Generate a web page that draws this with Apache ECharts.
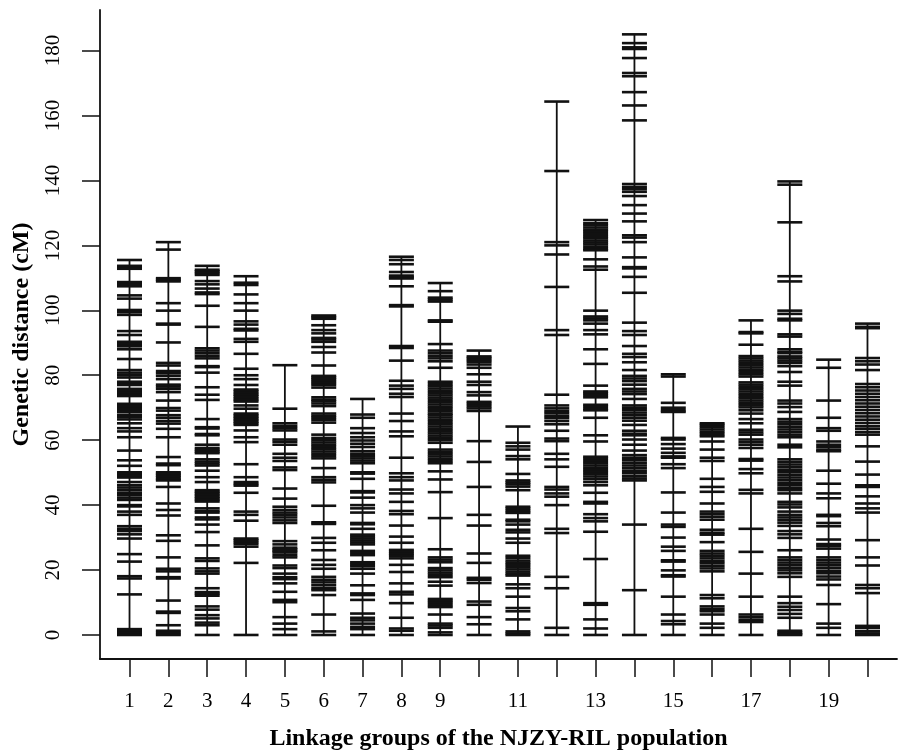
<!DOCTYPE html>
<html>
<head>
<meta charset="utf-8">
<script src="https://cdn.jsdelivr.net/npm/echarts@6/dist/echarts.min.js"></script>
<style>html,body{margin:0;padding:0;background:#fff}#c{width:907px;height:756px}</style>
</head>
<body>
<div id="c"></div>
<script>
// Linkage group numbers and marker positions (cM)
const groupIds = [1,2,3,4,5,6,7,8,9,10,11,12,13,14,15,16,17,18,19,20];
const xTickLabels = [1,2,3,4,5,6,7,8,9,11,13,15,17,19];
const yTickLabels = [0,20,40,60,80,100,120,140,160,180];

const lg1 = [115.5,113.7,113.1,112.8,108.7,108.2,107.8,107.4,104.6,103.6,100.1,99.4,98.6,93.6,92.4,90.3,89.7,89.2,88.9,88.0,85.0,81.6,80.8,80.0,79.3,78.0,77.3,77.0,75.8,75.2,74.6,74.0,73.6,71.2,70.7,70.2,69.7,69.2,68.6,67.7,67.2,66.4,65.2,63.7,62.7,60.9,56.8,53.8,52.1,50.1,49.6,49.0,48.5,47.1,46.1,45.4,44.6,43.8,43.1,42.3,41.6,40.0,39.6,38.0,37.0,33.5,32.7,32.0,31.0,29.7,24.9,22.6,18.1,17.4,12.5,1.8,1.2,0.6,0];
const lg2 = [121.0,118.7,109.9,109.4,108.9,102.2,99.9,95.9,95.6,90.1,83.8,83.0,81.3,80.6,79.8,78.8,77.1,76.5,75.8,74.8,72.2,69.9,69.1,67.7,66.9,65.9,65.1,63.5,60.9,54.8,52.8,52.3,50.1,49.6,49.1,48.6,48.0,47.6,45.6,40.5,38.5,36.8,30.7,29.0,23.9,20.4,19.6,17.8,17.4,10.6,7.2,6.8,3.0,1.3,0.6,0];
const lg3 = [113.7,112.5,112.0,111.5,110.9,109.0,108.0,106.7,105.5,105.0,101.4,94.9,88.3,87.6,86.8,86.0,85.2,82.8,82.5,80.8,76.3,74.0,72.4,66.5,64.0,63.6,61.9,61.5,58.6,57.6,57.0,56.5,56.0,54.1,53.4,52.8,52.2,50.6,48.6,47.1,44.6,44.1,43.6,43.1,42.6,42.1,41.6,41.1,39.0,38.2,37.7,36.2,35.6,34.0,31.7,27.6,23.6,22.8,20.5,19.6,18.9,14.4,13.2,12.7,12.1,8.8,7.8,6.1,5.1,3.8,3.0,0];
const lg4 = [110.5,108.5,107.8,104.9,102.2,99.9,96.6,95.6,94.3,93.8,91.2,90.3,86.6,82.0,80.0,78.8,77.0,75.6,75.1,74.5,74.0,73.5,72.9,72.4,71.9,70.7,69.7,68.2,67.7,67.2,66.7,66.2,65.7,65.2,64.7,63.0,60.9,59.4,52.6,48.6,47.1,46.5,46.0,43.8,38.0,37.0,35.2,29.7,29.2,28.6,28.0,27.2,22.2,0];
const lg5 = [83.1,69.7,65.2,64.4,63.7,63.0,60.2,59.5,58.6,55.8,54.6,53.6,51.6,50.8,45.1,42.0,39.5,38.5,37.7,37.0,36.2,35.3,34.5,28.9,27.9,26.9,26.4,25.9,25.4,24.6,23.9,21.4,20.6,18.9,17.8,17.2,15.9,13.3,10.8,10.1,5.5,3.5,1.8,0];
const lg6 = [98.4,97.9,97.4,95.4,93.9,92.9,91.5,91.0,90.3,88.7,87.0,83.0,79.8,79.3,78.8,78.2,77.6,77.0,76.2,73.2,72.5,72.0,71.3,70.5,68.2,67.5,66.9,66.2,65.4,61.7,60.7,60.0,59.3,58.6,57.9,57.2,56.5,55.8,55.1,54.4,51.4,48.6,47.8,47.0,39.8,34.7,34.2,29.9,28.4,26.1,23.1,21.6,20.4,17.9,17.0,16.2,15.3,14.4,13.8,12.3,6.3,1.1,0];
const lg7 = [72.7,67.9,66.9,63.7,62.2,60.9,59.9,58.9,57.9,56.6,55.8,55.1,54.4,53.7,52.9,50.1,49.7,48.1,44.3,43.9,42.3,40.0,39.0,37.7,34.5,34.1,32.7,30.9,30.3,29.7,29.1,28.5,27.9,25.9,25.3,24.6,22.4,21.8,21.2,20.4,18.9,15.3,12.8,12.3,10.8,6.6,5.3,4.5,3.5,2.5,1.8,0];
const lg8 = [116.5,115.5,114.2,111.8,110.7,110.2,109.8,107.4,101.6,101.2,89.0,88.4,84.5,78.3,76.8,75.8,74.3,73.3,68.2,65.9,62.7,61.2,54.6,49.8,48.6,47.6,44.8,43.6,41.0,38.2,37.2,33.7,30.3,28.4,26.2,25.6,25.0,24.4,23.6,21.6,19.4,15.9,13.3,12.5,9.8,5.3,2.0,1.3,0];
const lg9 = [108.4,105.9,103.9,103.3,102.7,96.9,96.5,89.6,87.6,86.8,86.0,85.2,84.3,82.3,78.0,77.3,76.6,75.9,75.2,74.5,73.8,73.1,72.4,71.7,71.0,70.3,69.6,68.9,68.2,67.7,67.0,66.3,65.6,64.9,64.2,63.5,62.8,62.1,61.4,60.7,60.0,59.2,57.1,56.4,55.7,55.0,54.3,53.6,52.9,50.4,47.9,44.0,36.0,26.4,23.9,23.2,22.4,20.6,19.9,19.2,18.5,17.8,16.4,15.2,11.1,10.5,9.9,9.2,8.6,6.3,3.5,2.9,2.2,0.8,0];
const lg10 = [87.6,85.8,85.3,84.7,84.1,83.3,82.3,80.3,78.0,77.0,74.8,73.8,71.8,71.2,70.5,69.8,69.0,59.7,53.3,45.6,37.0,33.7,25.1,22.2,17.6,17.0,16.0,10.3,9.3,5.5,3.3,0];
const lg11 = [64.2,59.2,58.1,57.1,55.1,54.1,49.6,47.6,47.0,46.4,45.7,44.6,39.5,38.9,38.2,37.6,35.5,35.0,34.0,32.4,31.6,29.7,28.4,24.4,23.7,22.9,22.2,21.6,20.9,20.2,19.5,18.8,18.3,15.6,14.4,11.8,8.3,7.3,4.8,1.1,0.5,0];
const lg12 = [164.3,142.9,121.0,120.0,117.2,107.2,93.9,92.4,74.0,70.7,69.8,69.0,68.3,67.5,66.8,65.9,64.9,62.9,60.5,59.7,55.8,54.1,51.8,45.6,44.8,43.6,42.6,40.0,32.7,31.4,17.9,14.4,2.2,0];
const lg13 = [127.8,126.8,126.2,125.5,124.8,124.2,123.5,122.8,122.2,121.5,120.9,120.3,119.6,118.9,118.5,115.7,113.5,112.5,99.9,98.1,97.5,96.9,95.9,93.9,92.6,88.0,83.5,76.8,75.0,74.5,73.9,73.2,70.9,70.3,69.6,69.2,66.9,61.5,59.6,54.9,54.3,53.6,52.9,52.2,51.5,50.8,50.2,49.5,48.8,48.0,47.1,46.1,43.8,41.0,40.5,37.2,36.0,35.0,31.8,23.4,9.8,9.3,4.8,2.0,0];
const lg14 = [185.0,182.3,181.0,180.5,177.7,173.1,172.1,167.2,163.1,158.5,138.9,138.0,137.3,136.5,135.2,132.4,129.8,127.4,123.1,122.4,121.0,116.3,113.3,112.9,110.3,105.4,96.2,93.6,92.4,89.0,86.6,85.6,84.0,81.6,79.8,79.0,78.2,77.1,75.8,75.0,74.2,72.7,70.7,70.0,69.3,68.5,67.7,66.9,66.0,64.7,62.9,62.0,61.5,60.2,58.6,56.8,55.4,54.6,53.8,53.0,52.2,51.4,50.6,49.8,48.9,48.2,47.6,34.0,13.8,0];
const lg15 = [80.3,79.6,71.5,70.0,69.2,68.7,60.7,60.2,58.8,57.4,56.1,55.0,54.6,52.6,51.4,43.9,37.7,34.0,33.3,30.0,27.2,25.9,23.0,22.6,19.9,18.4,18.0,11.8,6.3,4.3,3.3,0];
const lg16 = [65.2,64.7,64.0,63.3,62.6,61.9,61.2,59.6,57.1,54.6,53.6,48.1,45.6,44.1,40.5,38.0,37.2,36.4,35.5,32.4,31.5,30.9,28.6,25.9,25.1,24.4,23.6,22.8,22.1,21.3,20.5,19.6,12.3,11.3,8.8,8.0,7.3,6.3,3.5,2.2,0];
const lg17 = [96.9,93.3,92.9,89.4,85.9,85.2,84.5,83.8,83.1,82.4,81.7,81.0,80.3,79.6,77.8,77.1,76.4,75.7,75.0,74.3,73.6,72.9,72.2,71.5,70.8,70.1,69.2,68.2,66.5,65.2,63.2,62.4,61.7,60.2,59.4,58.6,57.6,54.2,53.7,51.1,49.8,44.7,43.6,32.7,25.6,18.9,11.8,6.3,5.5,4.7,4.0,0];
const lg18 = [139.7,138.7,127.1,110.5,108.9,99.9,98.9,97.4,96.9,92.6,91.9,88.0,87.2,86.8,85.8,85.2,84.5,83.8,82.8,81.0,78.0,76.8,72.2,71.3,70.2,68.7,66.5,65.7,64.9,64.1,63.3,62.5,61.7,60.9,58.6,57.8,54.1,53.3,52.5,51.7,50.9,50.1,49.3,48.5,47.7,46.9,46.1,45.3,44.6,43.6,41.0,40.2,39.3,38.0,37.0,36.2,35.4,34.6,33.6,32.0,31.0,29.9,26.1,23.9,23.1,22.3,21.5,20.7,19.9,19.0,17.9,11.8,9.8,8.7,7.7,6.5,5.3,1.3,0.7,0.3,0];
const lg19 = [84.8,82.3,72.2,66.9,63.7,62.9,59.6,58.6,57.8,57.0,56.6,50.6,46.6,43.6,42.1,37.0,36.6,34.5,33.5,29.4,28.0,27.4,26.6,23.9,23.1,22.3,21.5,20.7,19.8,19.0,18.0,17.1,15.4,9.5,3.5,2.2,0];
const lg20 = [95.9,94.9,94.5,85.3,84.3,83.3,81.6,77.3,76.3,75.3,74.3,73.3,72.3,71.3,70.3,69.3,68.3,67.3,66.3,65.3,64.3,63.5,62.5,61.7,58.1,53.4,49.4,46.1,45.6,42.7,40.5,39.0,37.7,29.2,23.9,21.4,15.4,14.4,12.9,2.8,2.2,1.2,0.5,0];

const groupMarkers = [lg1,lg2,lg3,lg4,lg5,lg6,lg7,lg8,lg9,lg10,lg11,lg12,lg13,lg14,lg15,lg16,lg17,lg18,lg19,lg20];

const INK = '#111';
const FONT = '"Liberation Serif", "Times New Roman", serif';

const lineSeries = groupIds.map((g, i) => {
  const ms = groupMarkers[i];
  return {
    type: 'line', silent: true, symbol: 'none', animation: false,
    lineStyle: { color: INK, width: 1.8 },
    data: [[g, Math.min.apply(null, ms)], [g, Math.max.apply(null, ms)]],
    z: 2
  };
});

const markerData = [];
groupIds.forEach((g, i) => groupMarkers[i].forEach(v => markerData.push([g, v])));

const chart = echarts.init(document.getElementById('c'), null, { renderer: 'canvas' });
chart.setOption({
  animation: false,
  backgroundColor: '#fff',
  grid: { left: 100, right: 10, top: 10, bottom: 84, containLabel: false },
  xAxis: {
    type: 'value', min: 0.24, max: 20.76,
    splitLine: { show: false },
    axisLine: { show: true, onZero: false, lineStyle: { color: INK, width: 1.8 } },
    axisTick: { show: true, inside: false, length: 18, customValues: groupIds, lineStyle: { color: INK, width: 1.5 } },
    axisLabel: { customValues: xTickLabels, margin: 32, fontFamily: FONT, fontSize: 21, color: '#000' },
    name: 'Linkage groups of the NJZY-RIL population',
    nameLocation: 'middle', nameGap: 68,
    nameTextStyle: { fontFamily: FONT, fontWeight: 'bold', fontSize: 24, color: '#000' }
  },
  yAxis: {
    type: 'value', min: -7.4, max: 192.5,
    splitLine: { show: false },
    axisLine: { show: true, onZero: false, lineStyle: { color: INK, width: 1.8 } },
    axisTick: { show: true, inside: false, length: 18, customValues: yTickLabels, lineStyle: { color: INK, width: 1.5 } },
    axisLabel: { customValues: yTickLabels, rotate: 90, margin: 36, fontFamily: FONT, fontSize: 21, color: '#000' },
    name: 'Genetic distance (cM)',
    nameLocation: 'middle', nameGap: 66,
    nameTextStyle: { fontFamily: FONT, fontWeight: 'bold', fontSize: 24, color: '#000' }
  },
  series: lineSeries.concat([{
    type: 'scatter', silent: true, animation: false,
    symbol: 'rect', symbolSize: [25, 2.6],
    itemStyle: { color: INK, opacity: 1 },
    data: markerData, z: 3
  }])
});
</script>
</body>
</html>
